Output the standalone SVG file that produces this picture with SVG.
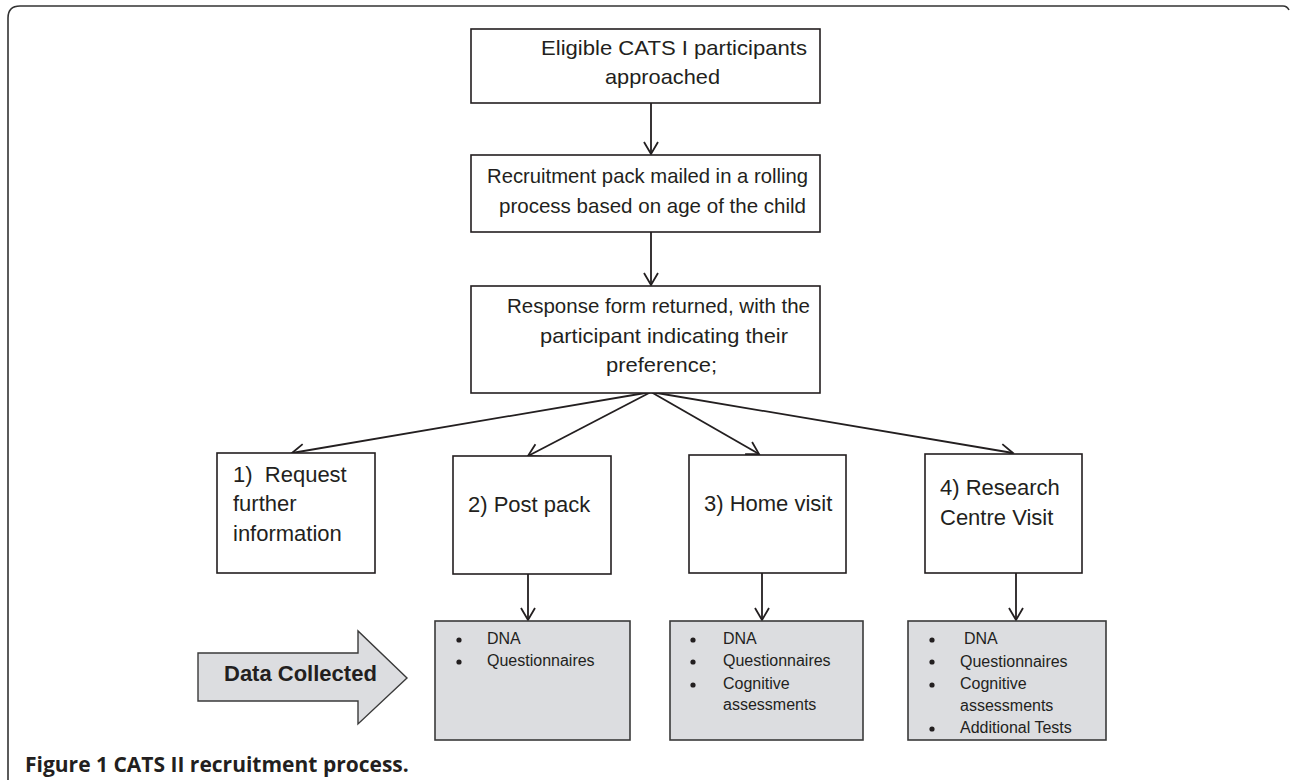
<svg xmlns="http://www.w3.org/2000/svg" width="1290" height="780" viewBox="0 0 1290 780">
<style>
.box{fill:#fff;stroke:#231f20;stroke-width:1.6}
.gbox{fill:#dcdde0;stroke:#3a3a3a;stroke-width:1.6}
.t{font-family:"Liberation Sans",Arial,sans-serif;font-size:21px;fill:#231f20}
.r{font-family:"Liberation Sans",Arial,sans-serif;font-size:22px;fill:#231f20}
.s{font-family:"Liberation Sans",Arial,sans-serif;font-size:16px;fill:#231f20}
.c{stroke:#231f20;stroke-width:1.8;fill:none}
.dot{fill:#231f20}
</style>
<defs>
<marker id="ah" markerUnits="userSpaceOnUse" markerWidth="20" markerHeight="20" viewBox="0 0 20 20" refX="13" refY="10" orient="auto">
<path d="M1,3 L13,10 L1,17" fill="none" stroke="#231f20" stroke-width="1.8"/>
</marker>
</defs>
<rect width="1290" height="780" fill="#fff"/>
<path d="M8,780 V18 Q8,6 20,6 H1283 Q1287,6 1289,10" fill="none" stroke="#333" stroke-width="1.6"/>

<g id="connectors">
<line class="c" x1="651" y1="103" x2="651" y2="154" marker-end="url(#ah)"/>
<line class="c" x1="651" y1="232" x2="651" y2="285" marker-end="url(#ah)"/>
<line class="c" x1="651" y1="392" x2="292" y2="453" marker-end="url(#ah)"/>
<line class="c" x1="651" y1="392" x2="528" y2="456" marker-end="url(#ah)"/>
<line class="c" x1="651" y1="392" x2="759" y2="454" marker-end="url(#ah)"/>
<line class="c" x1="651" y1="392" x2="1013" y2="453" marker-end="url(#ah)"/>
<line class="c" x1="528" y1="574" x2="528" y2="620" marker-end="url(#ah)"/>
<line class="c" x1="762" y1="573" x2="762" y2="620" marker-end="url(#ah)"/>
<line class="c" x1="1016" y1="573" x2="1016" y2="620" marker-end="url(#ah)"/>
</g>

<g id="n1">
<rect class="box" x="471" y="29" width="349" height="74"/>
<text class="t" x="541" y="55" textLength="266" lengthAdjust="spacingAndGlyphs">Eligible CATS I participants</text>
<text class="t" x="605" y="84" textLength="115" lengthAdjust="spacingAndGlyphs">approached</text>
</g>
<g id="n2">
<rect class="box" x="471" y="155" width="349" height="77"/>
<text class="t" x="487" y="183" textLength="321" lengthAdjust="spacingAndGlyphs">Recruitment pack mailed in a rolling</text>
<text class="t" x="499" y="213" textLength="307" lengthAdjust="spacingAndGlyphs">process based on age of the child</text>
</g>
<g id="n3">
<rect class="box" x="471" y="286" width="349" height="107"/>
<text class="t" x="507" y="313" textLength="303" lengthAdjust="spacingAndGlyphs">Response form returned, with the</text>
<text class="t" x="540" y="343" textLength="248" lengthAdjust="spacingAndGlyphs">participant indicating their</text>
<text class="t" x="606" y="372" textLength="111" lengthAdjust="spacingAndGlyphs">preference;</text>
</g>
<g id="o1">
<rect class="box" x="217" y="453" width="158" height="120"/>
<text class="r" x="233" y="482" xml:space="preserve">1)  Request</text>
<text class="r" x="233" y="511">further</text>
<text class="r" x="233" y="541">information</text>
</g>
<g id="o2">
<rect class="box" x="453" y="456" width="158" height="118"/>
<text class="r" x="468" y="512">2) Post pack</text>
</g>
<g id="o3">
<rect class="box" x="689" y="455" width="157" height="118"/>
<text class="r" x="704" y="511">3) Home visit</text>
</g>
<g id="o4">
<rect class="box" x="925" y="454" width="157" height="119"/>
<text class="r" x="940" y="495">4) Research</text>
<text class="r" x="940" y="525">Centre Visit</text>
</g>

<g id="dataCollected">
<path d="M198,653 H358 V631 L407,678 L358,724 V701 H198 Z" fill="#dcdde0" stroke="#3a3a3a" stroke-width="1.4"/>
<text x="224" y="681" font-family="'Liberation Sans',Arial,sans-serif" font-size="22" font-weight="bold" fill="#231f20">Data Collected</text>
</g>

<g id="d1">
<rect class="gbox" x="435" y="621" width="195" height="119"/>
<circle class="dot" cx="459" cy="640" r="2.6"/>
<circle class="dot" cx="459" cy="662" r="2.6"/>
<text class="s" x="487" y="644">DNA</text>
<text class="s" x="487" y="666">Questionnaires</text>
</g>
<g id="d2">
<rect class="gbox" x="670" y="621" width="193" height="119"/>
<circle class="dot" cx="693" cy="640" r="2.6"/>
<circle class="dot" cx="693" cy="662" r="2.6"/>
<circle class="dot" cx="693" cy="685" r="2.6"/>
<text class="s" x="723" y="644">DNA</text>
<text class="s" x="723" y="666">Questionnaires</text>
<text class="s" x="723" y="689">Cognitive</text>
<text class="s" x="723" y="710">assessments</text>
</g>
<g id="d3">
<rect class="gbox" x="908" y="621" width="198" height="119"/>
<circle class="dot" cx="932" cy="640" r="2.6"/>
<circle class="dot" cx="932" cy="662" r="2.6"/>
<circle class="dot" cx="932" cy="685" r="2.6"/>
<circle class="dot" cx="932" cy="729" r="2.6"/>
<text class="s" x="964" y="644">DNA</text>
<text class="s" x="960" y="667">Questionnaires</text>
<text class="s" x="960" y="689">Cognitive</text>
<text class="s" x="960" y="711">assessments</text>
<text class="s" x="960" y="733">Additional Tests</text>
</g>

<text x="25" y="772" font-family="'Open Sans','Liberation Sans',sans-serif" font-size="21" font-weight="bold" fill="#231f20">Figure 1 CATS II recruitment process.</text>
</svg>
